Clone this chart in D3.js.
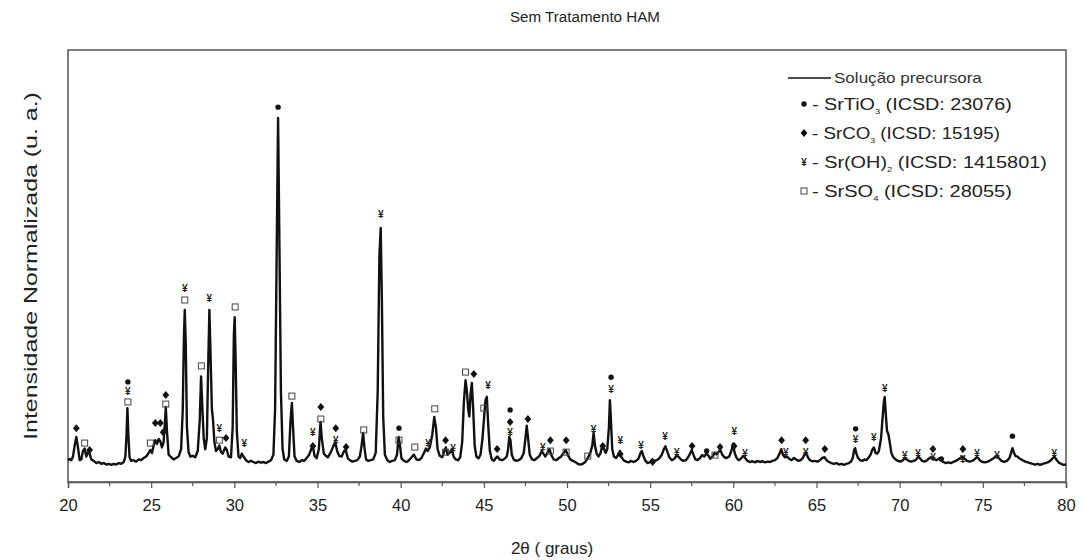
<!DOCTYPE html>
<html>
<head>
<meta charset="utf-8">
<script src="https://cdn.jsdelivr.net/npm/d3@7"></script>
<style>
  body { margin: 0; background: #fff; }
  svg { display: block; font-family: Arial, "Liberation Sans", sans-serif; }
</style>
</head>
<body>
<svg width="1083" height="560"></svg>
<script>
// XRD pattern: [2theta, normalized intensity]
const trace = [
  [20.00,0.060],[20.10,0.063],[20.20,0.060],[20.30,0.070],[20.40,0.100],[20.50,0.124],[20.60,0.095],[20.70,0.060],
  [20.80,0.062],[20.90,0.085],[21.00,0.092],[21.10,0.070],[21.20,0.082],[21.30,0.078],[21.40,0.062],[21.55,0.058],
  [21.70,0.052],[21.85,0.055],[22.00,0.050],[22.15,0.052],[22.30,0.048],[22.45,0.050],[22.60,0.047],[22.75,0.050],
  [22.90,0.048],[23.05,0.052],[23.20,0.050],[23.35,0.055],[23.45,0.070],[23.52,0.130],[23.57,0.203],[23.63,0.130],
  [23.70,0.068],[23.80,0.058],[23.95,0.060],[24.10,0.056],[24.25,0.062],[24.40,0.060],[24.55,0.066],[24.70,0.070],
  [24.85,0.080],[24.95,0.088],[25.05,0.080],[25.15,0.100],[25.25,0.115],[25.35,0.105],[25.45,0.118],[25.55,0.112],
  [25.65,0.095],[25.75,0.110],[25.82,0.160],[25.88,0.206],[25.95,0.140],[26.05,0.075],[26.20,0.068],[26.35,0.062],
  [26.50,0.066],[26.65,0.070],[26.80,0.090],[26.90,0.200],[26.97,0.400],[27.02,0.473],[27.08,0.380],[27.15,0.150],
  [27.25,0.082],[27.35,0.070],[27.50,0.072],[27.65,0.068],[27.80,0.085],[27.92,0.170],[28.00,0.290],[28.08,0.200],
  [28.16,0.120],[28.25,0.090],[28.35,0.120],[28.42,0.300],[28.50,0.473],[28.57,0.350],[28.65,0.200],[28.72,0.170],
  [28.80,0.110],[28.90,0.085],[29.00,0.090],[29.10,0.100],[29.20,0.082],[29.30,0.078],[29.45,0.095],[29.55,0.088],
  [29.65,0.070],[29.80,0.068],[29.90,0.150],[29.97,0.400],[30.02,0.453],[30.08,0.330],[30.15,0.140],[30.25,0.070],
  [30.35,0.066],[30.45,0.078],[30.55,0.070],[30.70,0.060],[30.85,0.055],[31.00,0.058],[31.15,0.055],[31.30,0.052],
  [31.45,0.056],[31.60,0.053],[31.75,0.055],[31.90,0.052],[32.05,0.056],[32.20,0.060],[32.35,0.075],[32.45,0.200],
  [32.55,0.650],[32.63,1.000],[32.70,0.700],[32.80,0.250],[32.90,0.090],[33.00,0.062],[33.15,0.058],[33.28,0.070],
  [33.38,0.170],[33.46,0.217],[33.53,0.150],[33.62,0.070],[33.75,0.058],[33.90,0.055],[34.05,0.060],[34.20,0.058],
  [34.35,0.066],[34.50,0.075],[34.62,0.090],[34.72,0.100],[34.82,0.072],[34.95,0.065],[35.08,0.090],[35.18,0.165],
  [35.26,0.120],[35.38,0.078],[35.50,0.072],[35.62,0.068],[35.78,0.080],[35.95,0.098],[36.07,0.110],[36.18,0.085],
  [36.30,0.072],[36.45,0.070],[36.60,0.085],[36.70,0.088],[36.82,0.065],[36.95,0.060],[37.10,0.056],[37.25,0.058],
  [37.40,0.060],[37.55,0.070],[37.65,0.100],[37.74,0.135],[37.82,0.095],[37.92,0.062],[38.05,0.058],[38.20,0.060],
  [38.35,0.062],[38.50,0.080],[38.62,0.250],[38.72,0.620],[38.80,0.698],[38.87,0.500],[38.95,0.180],[39.05,0.075],
  [39.20,0.060],[39.35,0.055],[39.50,0.058],[39.65,0.060],[39.78,0.075],[39.88,0.124],[39.96,0.100],[40.05,0.065],
  [40.20,0.058],[40.35,0.055],[40.50,0.060],[40.65,0.068],[40.80,0.075],[40.95,0.062],[41.10,0.060],[41.25,0.066],
  [41.40,0.080],[41.52,0.092],[41.62,0.085],[41.75,0.095],[41.90,0.130],[42.02,0.179],[42.12,0.150],[42.22,0.090],
  [42.35,0.072],[42.50,0.068],[42.62,0.085],[42.72,0.095],[42.82,0.075],[42.95,0.080],[43.08,0.090],[43.18,0.070],
  [43.30,0.062],[43.45,0.060],[43.58,0.068],[43.70,0.110],[43.80,0.220],[43.90,0.280],[43.98,0.250],[44.06,0.200],
  [44.13,0.180],[44.20,0.240],[44.28,0.272],[44.36,0.200],[44.45,0.100],[44.55,0.070],[44.68,0.065],[44.80,0.075],
  [44.92,0.120],[45.02,0.180],[45.10,0.225],[45.18,0.234],[45.26,0.160],[45.36,0.085],[45.48,0.062],[45.60,0.058],
  [45.72,0.066],[45.82,0.070],[45.95,0.062],[46.10,0.060],[46.25,0.064],[46.38,0.070],[46.46,0.090],[46.53,0.124],
  [46.60,0.115],[46.68,0.075],[46.80,0.062],[46.95,0.058],[47.10,0.060],[47.25,0.065],[47.40,0.080],[47.50,0.120],
  [47.58,0.155],[47.66,0.120],[47.76,0.075],[47.90,0.062],[48.05,0.060],[48.20,0.066],[48.35,0.072],[48.48,0.085],
  [48.58,0.078],[48.70,0.070],[48.82,0.080],[48.95,0.090],[49.05,0.075],[49.20,0.062],[49.35,0.060],[49.50,0.065],
  [49.65,0.070],[49.80,0.080],[49.92,0.088],[50.05,0.074],[50.20,0.062],[50.35,0.058],[50.50,0.055],[50.65,0.050],
  [50.80,0.048],[50.95,0.050],[51.10,0.055],[51.25,0.066],[51.40,0.080],[51.52,0.100],[51.60,0.135],[51.68,0.100],
  [51.78,0.078],[51.90,0.070],[52.02,0.080],[52.12,0.100],[52.22,0.092],[52.32,0.080],[52.42,0.090],[52.52,0.150],
  [52.58,0.225],[52.64,0.170],[52.72,0.090],[52.82,0.070],[52.95,0.066],[53.08,0.075],[53.18,0.085],[53.28,0.068],
  [53.40,0.060],[53.55,0.056],[53.70,0.054],[53.85,0.058],[54.00,0.055],[54.15,0.058],[54.30,0.064],[54.42,0.080],
  [54.50,0.085],[54.60,0.070],[54.72,0.058],[54.85,0.052],[55.00,0.055],[55.12,0.062],[55.25,0.058],[55.40,0.060],
  [55.55,0.065],[55.70,0.075],[55.82,0.090],[55.92,0.098],[56.02,0.085],[56.15,0.068],[56.30,0.060],[56.45,0.064],
  [56.58,0.072],[56.70,0.070],[56.85,0.062],[57.00,0.058],[57.15,0.060],[57.28,0.068],[57.40,0.078],[57.50,0.088],
  [57.60,0.075],[57.72,0.062],[57.85,0.060],[58.00,0.066],[58.12,0.074],[58.25,0.070],[58.38,0.078],[58.50,0.072],
  [58.62,0.064],[58.75,0.070],[58.88,0.080],[58.98,0.076],[59.10,0.082],[59.22,0.088],[59.34,0.075],[59.46,0.068],
  [59.60,0.066],[59.75,0.070],[59.88,0.085],[59.98,0.105],[60.08,0.080],[60.20,0.066],[60.32,0.060],[60.45,0.064],
  [60.60,0.072],[60.72,0.065],[60.85,0.058],[61.00,0.055],[61.15,0.057],[61.30,0.054],[61.45,0.058],[61.60,0.055],
  [61.75,0.057],[61.90,0.054],[62.05,0.056],[62.20,0.055],[62.35,0.058],[62.50,0.060],[62.65,0.066],[62.78,0.078],
  [62.88,0.090],[62.98,0.075],[63.10,0.068],[63.22,0.070],[63.35,0.064],[63.50,0.060],[63.65,0.066],[63.78,0.062],
  [63.92,0.058],[64.05,0.060],[64.18,0.066],[64.30,0.078],[64.38,0.080],[64.48,0.068],[64.60,0.060],[64.75,0.057],
  [64.90,0.058],[65.05,0.056],[65.20,0.060],[65.35,0.066],[65.48,0.068],[65.60,0.060],[65.75,0.055],[65.90,0.052],
  [66.05,0.050],[66.20,0.052],[66.35,0.048],[66.50,0.050],[66.65,0.047],[66.80,0.050],[66.95,0.052],[67.08,0.056],
  [67.18,0.066],[67.26,0.088],[67.32,0.093],[67.40,0.078],[67.50,0.066],[67.62,0.060],[67.75,0.058],[67.88,0.062],
  [68.00,0.060],[68.12,0.066],[68.25,0.075],[68.35,0.088],[68.45,0.095],[68.55,0.080],[68.65,0.078],[68.75,0.085],
  [68.88,0.120],[68.98,0.180],[69.05,0.220],[69.10,0.234],[69.16,0.190],[69.24,0.140],[69.32,0.132],[69.40,0.110],
  [69.50,0.080],[69.62,0.068],[69.75,0.062],[69.90,0.058],[70.05,0.056],[70.20,0.060],[70.32,0.066],[70.42,0.062],
  [70.55,0.058],[70.70,0.056],[70.85,0.058],[71.00,0.062],[71.12,0.070],[71.22,0.065],[71.35,0.058],[71.50,0.056],
  [71.65,0.060],[71.80,0.066],[71.92,0.068],[72.05,0.064],[72.20,0.060],[72.35,0.064],[72.48,0.060],[72.62,0.055],
  [72.78,0.052],[72.92,0.054],[73.08,0.052],[73.22,0.055],[73.38,0.058],[73.52,0.062],[73.65,0.066],[73.78,0.070],
  [73.90,0.064],[74.05,0.058],[74.20,0.056],[74.35,0.058],[74.50,0.062],[74.62,0.068],[74.72,0.066],[74.85,0.058],
  [75.00,0.055],[75.15,0.054],[75.30,0.056],[75.45,0.060],[75.60,0.064],[75.72,0.068],[75.85,0.072],[75.98,0.065],
  [76.12,0.058],[76.28,0.055],[76.45,0.058],[76.60,0.066],[76.70,0.080],[76.78,0.093],[76.86,0.082],[76.95,0.072],
  [77.08,0.070],[77.22,0.064],[77.38,0.060],[77.55,0.056],[77.70,0.054],[77.85,0.052],[78.00,0.050],[78.15,0.048],
  [78.30,0.050],[78.45,0.047],[78.60,0.050],[78.75,0.052],[78.90,0.054],[79.05,0.058],[79.18,0.064],[79.30,0.070],
  [79.42,0.062],[79.55,0.054],[79.70,0.050],[79.85,0.047],[80.00,0.048]
];

// phase markers: [2theta, level, phase]
const markers = [
  [20.50,0.148,"c"],[21.00,0.107,"s"],[21.30,0.088,"c"],
  [23.60,0.275,"t"],[23.60,0.250,"h"],[23.60,0.220,"s"],
  [24.95,0.107,"s"],[25.25,0.162,"c"],[25.55,0.162,"c"],[25.72,0.137,"c"],
  [25.88,0.239,"c"],[25.88,0.214,"s"],
  [27.02,0.533,"h"],[27.02,0.500,"s"],[28.02,0.319,"s"],[28.50,0.505,"h"],
  [29.10,0.148,"h"],[29.10,0.115,"s"],[29.50,0.121,"c"],[30.05,0.481,"s"],[30.60,0.107,"h"],
  [32.63,1.030,"t"],[33.46,0.236,"s"],
  [34.72,0.137,"h"],[34.72,0.099,"c"],[35.20,0.206,"c"],[35.20,0.173,"s"],
  [36.10,0.148,"c"],[36.10,0.113,"h"],[36.72,0.096,"c"],[37.78,0.143,"s"],
  [38.80,0.734,"h"],[39.90,0.148,"t"],[39.90,0.115,"s"],[40.85,0.096,"s"],[41.65,0.107,"h"],
  [42.05,0.201,"s"],[42.70,0.115,"c"],[42.70,0.082,"s"],[43.15,0.093,"h"],
  [43.90,0.302,"s"],[44.40,0.297,"c"],[45.00,0.203,"s"],[45.25,0.266,"h"],[45.80,0.091,"c"],
  [46.58,0.198,"t"],[46.58,0.165,"c"],[46.58,0.137,"h"],[47.65,0.173,"c"],
  [48.55,0.096,"h"],[49.00,0.115,"c"],[49.00,0.085,"s"],[49.95,0.115,"c"],[49.95,0.082,"s"],
  [51.25,0.071,"s"],[51.60,0.143,"h"],[52.15,0.099,"c"],[52.65,0.288,"t"],[52.65,0.255,"h"],
  [53.20,0.115,"h"],[53.20,0.077,"c"],[54.45,0.099,"h"],[55.15,0.055,"c"],[55.90,0.124,"h"],
  [56.60,0.082,"h"],[57.52,0.099,"c"],[58.40,0.085,"t"],[58.90,0.074,"s"],[59.20,0.096,"c"],
  [60.05,0.140,"h"],[60.05,0.099,"c"],[60.70,0.077,"h"],
  [62.90,0.115,"c"],[63.15,0.082,"h"],[64.35,0.115,"c"],[64.35,0.082,"h"],[65.50,0.091,"c"],
  [67.35,0.146,"t"],[67.35,0.118,"h"],[68.45,0.121,"h"],[69.10,0.258,"h"],
  [70.30,0.074,"h"],[71.10,0.077,"h"],[72.00,0.091,"c"],[72.00,0.066,"h"],[72.50,0.063,"t"],
  [73.80,0.091,"c"],[73.80,0.063,"h"],[74.65,0.077,"h"],[75.85,0.074,"h"],[76.78,0.126,"t"],
  [79.30,0.077,"h"]
];

const xTicks = [20, 25, 30, 35, 40, 45, 50, 55, 60, 65, 70, 75, 80];
const legendPhases = [
  { key: "t", name: "SrTiO", sub: "3", ref: "(ICSD: 23076)" },
  { key: "c", name: "SrCO", sub: "3", ref: "(ICSD: 15195)" },
  { key: "h", name: "Sr(OH)", sub: "2", ref: "(ICSD: 1415801)" },
  { key: "s", name: "SrSO", sub: "4", ref: "(ICSD: 28055)" }
];
const legendWidths = [200, 188, 235, 200];

const svg = d3.select("svg");
const margin = { left: 68, right: 17, top: 50, bottom: 78 };
const W = 1083, H = 560;

const x = d3.scaleLinear().domain([20, 80]).range([margin.left, W - margin.right]);
const y = d3.scaleLinear().domain([0, 1.187]).range([H - margin.bottom, margin.top]);

// stretch a text horizontally to a given width, keeping its start point
function fitWidth(sel, target, x0, y0) {
  const w = sel.node().getComputedTextLength();
  const k = target / w;
  sel.attr("transform", `translate(${x0},${y0}) scale(${k},1) translate(${-x0},${-y0})`);
}

// frame
svg.append("rect")
  .attr("x", margin.left).attr("y", margin.top)
  .attr("width", W - margin.right - margin.left)
  .attr("height", H - margin.bottom - margin.top)
  .attr("fill", "none").attr("stroke", "#555").attr("stroke-width", 1.5);

// x axis
const xAxis = d3.axisBottom(x).tickValues(xTicks).tickSize(6).tickPadding(11);
const gx = svg.append("g")
  .attr("transform", `translate(0,${H - margin.bottom})`)
  .call(xAxis);
gx.select(".domain").attr("stroke", "#555").attr("stroke-width", 1.5);
gx.selectAll(".tick line").attr("stroke", "#555").attr("stroke-width", 1.2);
gx.selectAll(".tick text").attr("font-size", 16.5).attr("fill", "#222")
  .attr("font-family", "Arial, 'Liberation Sans', sans-serif");

const minor = d3.range(22.5, 80, 5);
svg.append("g").selectAll("line").data(minor).join("line")
  .attr("x1", d => x(d)).attr("x2", d => x(d))
  .attr("y1", H - margin.bottom).attr("y2", H - margin.bottom + 4)
  .attr("stroke", "#555").attr("stroke-width", 1.2);

// trace
const line = d3.line().x(d => x(d[0])).y(d => y(d[1]));
svg.append("path")
  .datum(trace)
  .attr("d", line)
  .attr("fill", "none")
  .attr("stroke", "#111")
  .attr("stroke-width", 2.4)
  .attr("stroke-linejoin", "round");

// phase symbols
function drawSymbol(g, type, cx, cy) {
  if (type === "t") {
    g.append("circle").attr("cx", cx).attr("cy", cy).attr("r", 2.7).attr("fill", "#111");
  } else if (type === "c") {
    g.append("path")
      .attr("d", `M${cx},${cy - 4}L${cx + 3.4},${cy}L${cx},${cy + 4}L${cx - 3.4},${cy}Z`)
      .attr("fill", "#111");
  } else if (type === "h") {
    g.append("text").attr("x", cx).attr("y", cy + 3.5)
      .attr("text-anchor", "middle").attr("font-size", 10).attr("font-weight", "bold")
      .attr("fill", "#222").text("¥");
  } else {
    g.append("rect").attr("x", cx - 3).attr("y", cy - 3).attr("width", 6).attr("height", 6)
      .attr("fill", "none").attr("stroke", "#444").attr("stroke-width", 1);
  }
}

const gm = svg.append("g");
markers.forEach(m => drawSymbol(gm, m[2], x(m[0]), y(m[1])));

// legend
const lg = svg.append("g");
lg.append("line").attr("x1", 788).attr("x2", 831).attr("y1", 78).attr("y2", 78)
  .attr("stroke", "#111").attr("stroke-width", 1.5);
const lt = lg.append("text").attr("x", 834).attr("y", 83).attr("font-size", 14).attr("fill", "#333")
  .text("Solução precursora");
fitWidth(lt, 148, 834, 83);

legendPhases.forEach((p, i) => {
  const cy = 104 + i * 29;
  drawSymbol(lg, p.key, 804, cy);
  const t = lg.append("text").attr("x", 812).attr("y", cy + 6).attr("font-size", 17).attr("fill", "#222");
  t.append("tspan").text(`- ${p.name}`);
  t.append("tspan").attr("font-size", 8).attr("dy", 4).text(p.sub);
  t.append("tspan").attr("dy", -4).text(` ${p.ref}`);
  fitWidth(t, legendWidths[i], 812, cy + 6);
});

// titles
const tt = svg.append("text").attr("x", 510).attr("y", 22)
  .attr("font-size", 14.5).attr("fill", "#222").text("Sem Tratamento HAM");
fitWidth(tt, 150, 510, 22);

svg.append("text").attr("x", 552).attr("y", 554).attr("text-anchor", "middle")
  .attr("font-size", 17).attr("fill", "#222").text("2θ  ( graus)");

const yl = svg.append("text")
  .attr("x", 0).attr("y", 0)
  .attr("text-anchor", "middle").attr("font-size", 18).attr("fill", "#222")
  .text("Intensidade Normalizada  (u. a.)");
const ylw = yl.node().getComputedTextLength();
yl.attr("transform", `translate(37,266) rotate(-90) scale(${348 / ylw},1)`);
</script>
</body>
</html>
